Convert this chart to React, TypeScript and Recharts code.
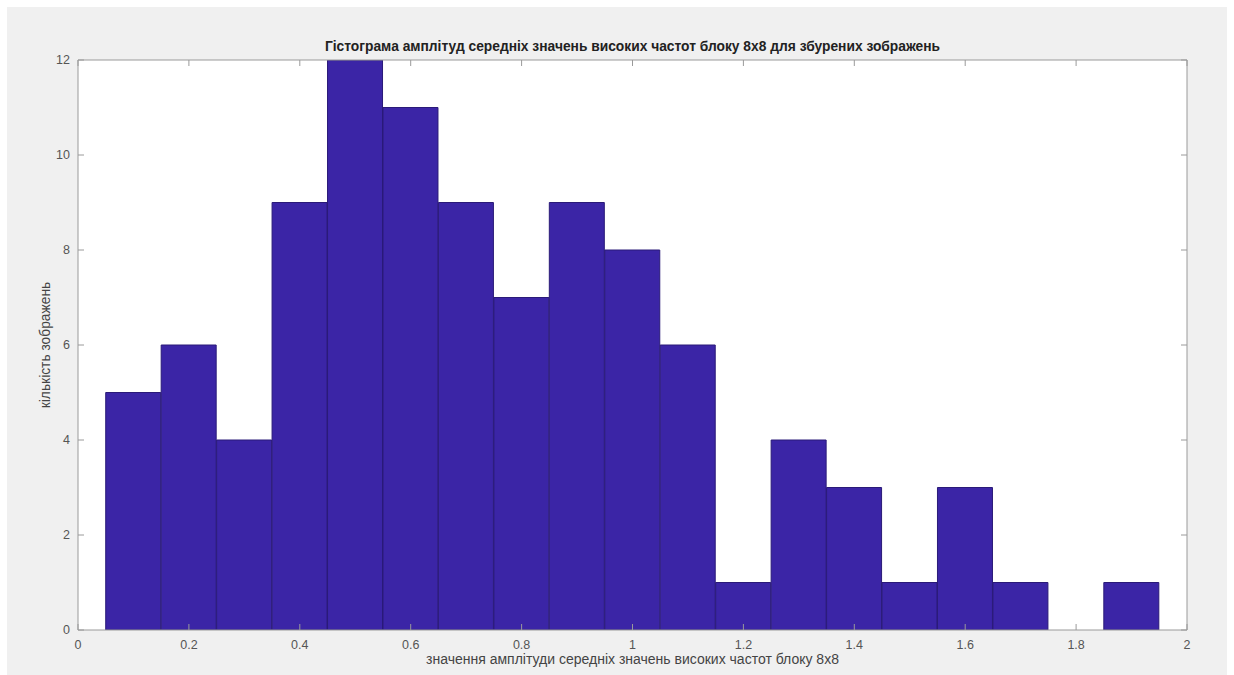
import React from 'react';
import { ComposedChart, Bar, XAxis, YAxis } from 'recharts';

// histogram bins (centres) and counts
const binCenters = [0.1, 0.2, 0.3, 0.4, 0.5, 0.6, 0.7, 0.8, 0.9, 1.0, 1.1, 1.2, 1.3, 1.4, 1.5, 1.6, 1.7, 1.8, 1.9];
const counts = [5, 6, 4, 9, 12, 11, 9, 7, 9, 8, 6, 1, 4, 3, 1, 3, 1, 0, 1];
const xTicks = [0, 0.2, 0.4, 0.6, 0.8, 1, 1.2, 1.4, 1.6, 1.8, 2];
const yTicks = [0, 2, 4, 6, 8, 10, 12];

const title = 'Гістограма амплітуд середніх значень високих частот блоку 8x8 для збурених зображень';
const xLabel = 'значення амплітуди середніх значень високих частот блоку 8x8';
const yLabel = 'кількість зображень';

const data = binCenters.map((c, i) => ({ center: c, count: counts[i] }));

const W = 1234;
const H = 675;
const plotLeft = 78;
const plotRight = 1187;
const plotTop = 60;
const plotBottom = 630;
// axis runs 0..2, bins are 0.1 wide -> half a bin of padding on each side
const halfBin = (plotRight - plotLeft) / 40;

const font = '"Liberation Sans", Arial, sans-serif';
const axisColor = '#9a9a9a';
const tickText = { fill: '#555', fontSize: 12.5, fontFamily: font };

export default function App() {
    return (
        <div style={{ position: 'absolute', left: 0, top: 0, width: W, height: H, background: '#fff' }}>
            <div style={{ position: 'absolute', left: 7, top: 7, width: 1220, height: 668, background: '#f0f0f0' }} />
            <div
                style={{
                    position: 'absolute', left: plotLeft, width: plotRight - plotLeft, top: 39,
                    textAlign: 'center', fontFamily: font, fontSize: 13.8, fontWeight: 'bold', color: '#222'
                }}
            >
                {title}
            </div>
            <div style={{ position: 'absolute', left: 0, top: 0 }}>
                <ComposedChart
                    width={W}
                    height={H}
                    data={data}
                    barCategoryGap={0}
                    barGap={0}
                    margin={{ top: plotTop - 1, left: plotLeft - 40, right: W - plotRight - 1, bottom: H - plotBottom - 40 }}
                >
                    <rect x={plotLeft} y={plotTop} width={plotRight - plotLeft} height={plotBottom - plotTop} fill="#fff" />
                    <XAxis
                        xAxisId="bins"
                        dataKey="center"
                        type="category"
                        hide
                        padding={{ left: halfBin, right: halfBin }}
                    />
                    <XAxis
                        xAxisId="b"
                        dataKey="center"
                        type="number"
                        domain={[0, 2]}
                        ticks={xTicks}
                        interval={0}
                        height={40}
                        tickSize={-6}
                        tickMargin={16}
                        stroke={axisColor}
                        tick={tickText}
                        allowDataOverflow
                        label={{ value: xLabel, position: 'insideBottom', offset: 6, fill: '#444', fontSize: 14, fontFamily: font }}
                    />
                    <XAxis
                        xAxisId="t"
                        orientation="top"
                        dataKey="center"
                        type="number"
                        domain={[0, 2]}
                        ticks={xTicks}
                        interval={0}
                        height={1}
                        tickSize={-6}
                        stroke={axisColor}
                        tickFormatter={() => ''}
                        allowDataOverflow
                    />
                    <YAxis
                        yAxisId="l"
                        domain={[0, 12]}
                        ticks={yTicks}
                        interval={0}
                        width={40}
                        tickSize={-6}
                        tickMargin={14}
                        stroke={axisColor}
                        tick={tickText}
                        allowDataOverflow
                        label={{ value: yLabel, angle: -90, position: 'insideLeft', offset: 7, fill: '#444', fontSize: 13.8, fontFamily: font, style: { textAnchor: 'middle' } }}
                    />
                    <YAxis
                        yAxisId="r"
                        orientation="right"
                        domain={[0, 12]}
                        ticks={yTicks}
                        interval={0}
                        width={1}
                        tickSize={-6}
                        stroke={axisColor}
                        tickFormatter={() => ''}
                        allowDataOverflow
                    />
                    <Bar
                        xAxisId="bins"
                        yAxisId="l"
                        dataKey="count"
                        fill="#3b25a6"
                        stroke="#2a1a78"
                        strokeWidth={1}
                        isAnimationActive={false}
                    />
                </ComposedChart>
            </div>
        </div>
    );
}
